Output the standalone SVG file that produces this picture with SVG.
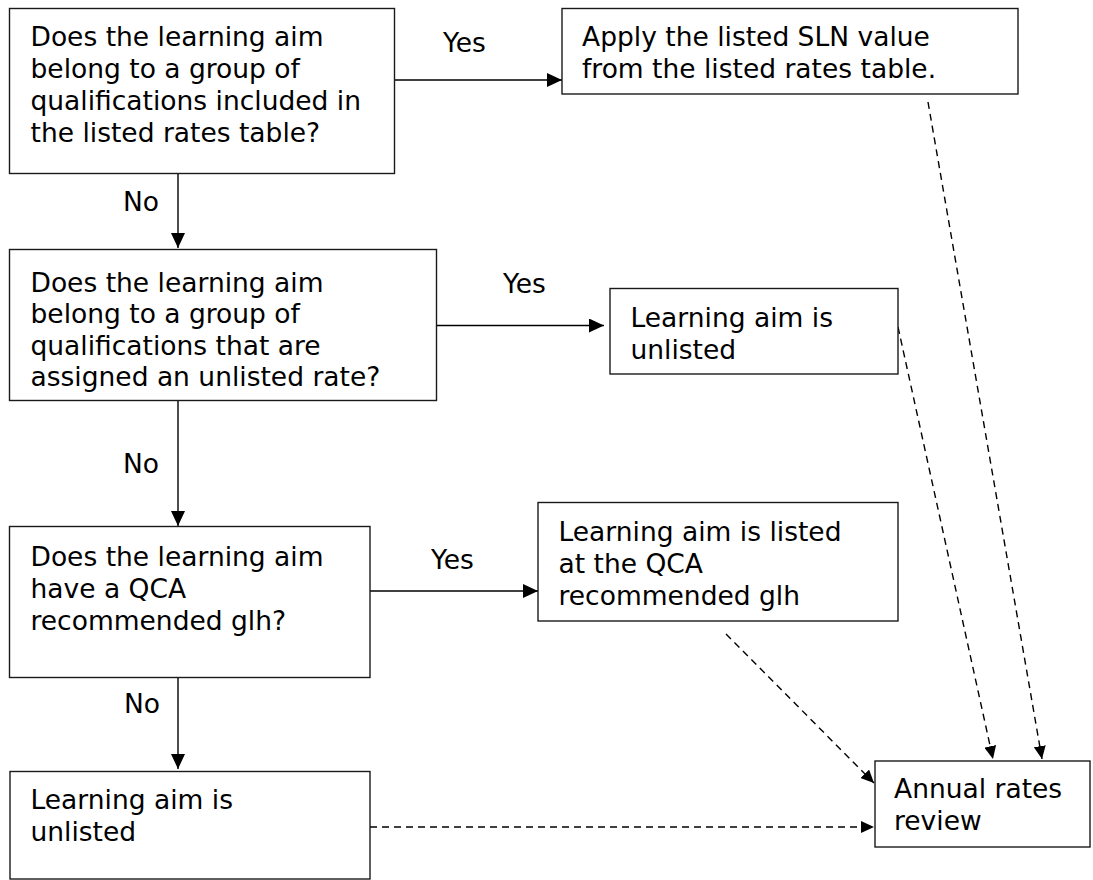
<svg xmlns="http://www.w3.org/2000/svg" width="1093" height="880" viewBox="0 0 1093 880">
<style>
.box{fill:#fff;stroke:#1a1a1a;stroke-width:1.4}
.t{font-family:"DejaVu Sans",Verdana,sans-serif;font-size:26.5px;fill:#000}
.lbl{font-family:"DejaVu Sans",Verdana,sans-serif;font-size:26.5px;fill:#000}
.solid{stroke:#000;stroke-width:1.4;fill:none}
.dash{stroke:#000;stroke-width:1.4;fill:none;stroke-dasharray:7 5}
</style>
<defs>
<marker id="ah" markerUnits="userSpaceOnUse" markerWidth="16" markerHeight="14" refX="15" refY="7" orient="auto">
<path d="M0,0 L15,7 L0,14 z" fill="#000"/>
</marker>
<marker id="ahd" markerUnits="userSpaceOnUse" markerWidth="14" markerHeight="12" refX="13" refY="6" orient="auto">
<path d="M0,0 L13,6 L0,12 z" fill="#000"/>
</marker>
</defs>
<g id="connectors">
<line class="solid" x1="394" y1="80" x2="562" y2="80" marker-end="url(#ah)"/>
<line class="solid" x1="178" y1="173" x2="178" y2="248" marker-end="url(#ah)"/>
<line class="solid" x1="436.5" y1="325.5" x2="604" y2="325.5" marker-end="url(#ah)"/>
<line class="solid" x1="178" y1="401" x2="178" y2="526" marker-end="url(#ah)"/>
<line class="solid" x1="370" y1="591" x2="538" y2="591" marker-end="url(#ah)"/>
<line class="solid" x1="178" y1="677.5" x2="178" y2="769" marker-end="url(#ah)"/>
<line class="dash" x1="928" y1="102" x2="1042" y2="759" marker-end="url(#ahd)"/>
<line class="dash" x1="898" y1="327" x2="993" y2="759" marker-end="url(#ahd)"/>
<line class="dash" x1="726" y1="634" x2="874" y2="783" marker-end="url(#ahd)"/>
<line class="dash" x1="370" y1="827" x2="874" y2="827" marker-end="url(#ahd)"/>
<text class="lbl" x="443" y="52">Yes</text>
<text class="lbl" x="123" y="210.5">No</text>
<text class="lbl" x="503" y="292.5">Yes</text>
<text class="lbl" x="123" y="473">No</text>
<text class="lbl" x="431" y="569">Yes</text>
<text class="lbl" x="124" y="713">No</text>
</g>
<g id="n1">
<rect class="box" x="9.5" y="8.5" width="385" height="165"/>
<text class="t" x="30.5"><tspan x="30.5" y="46">Does the learning aim</tspan><tspan x="30.5" y="78">belong to a group of</tspan><tspan x="30.5" y="110">qualifications included in</tspan><tspan x="30.5" y="141.5">the listed rates table?</tspan></text>
</g>
<g id="n2">
<rect class="box" x="562" y="8.5" width="456" height="85.5"/>
<text class="t"><tspan x="582" y="46">Apply the listed SLN value</tspan><tspan x="582" y="78">from the listed rates table.</tspan></text>
</g>
<g id="n3">
<rect class="box" x="9.5" y="249.5" width="427" height="151"/>
<text class="t"><tspan x="30.5" y="291.5">Does the learning aim</tspan><tspan x="30.5" y="323">belong to a group of</tspan><tspan x="30.5" y="354.5">qualifications that are</tspan><tspan x="30.5" y="386">assigned an unlisted rate?</tspan></text>
</g>
<g id="n4">
<rect class="box" x="610" y="288.5" width="288" height="85.5"/>
<text class="t"><tspan x="630.5" y="327">Learning aim is</tspan><tspan x="630.5" y="358.5">unlisted</tspan></text>
</g>
<g id="n5">
<rect class="box" x="9.5" y="526.5" width="360.5" height="151"/>
<text class="t"><tspan x="30.5" y="565.5">Does the learning aim</tspan><tspan x="30.5" y="597.5">have a QCA</tspan><tspan x="30.5" y="629.5">recommended glh?</tspan></text>
</g>
<g id="n6">
<rect class="box" x="538" y="502.5" width="360" height="118.5"/>
<text class="t"><tspan x="558.5" y="541">Learning aim is listed</tspan><tspan x="558.5" y="573">at the QCA</tspan><tspan x="558.5" y="605">recommended glh</tspan></text>
</g>
<g id="n7">
<rect class="box" x="10" y="771.5" width="360" height="107.5"/>
<text class="t"><tspan x="30.5" y="809">Learning aim is</tspan><tspan x="30.5" y="841">unlisted</tspan></text>
</g>
<g id="n8">
<rect class="box" x="875" y="761" width="215" height="86"/>
<text class="t"><tspan x="894" y="798">Annual rates</tspan><tspan x="894" y="830">review</tspan></text>
</g>
</svg>
